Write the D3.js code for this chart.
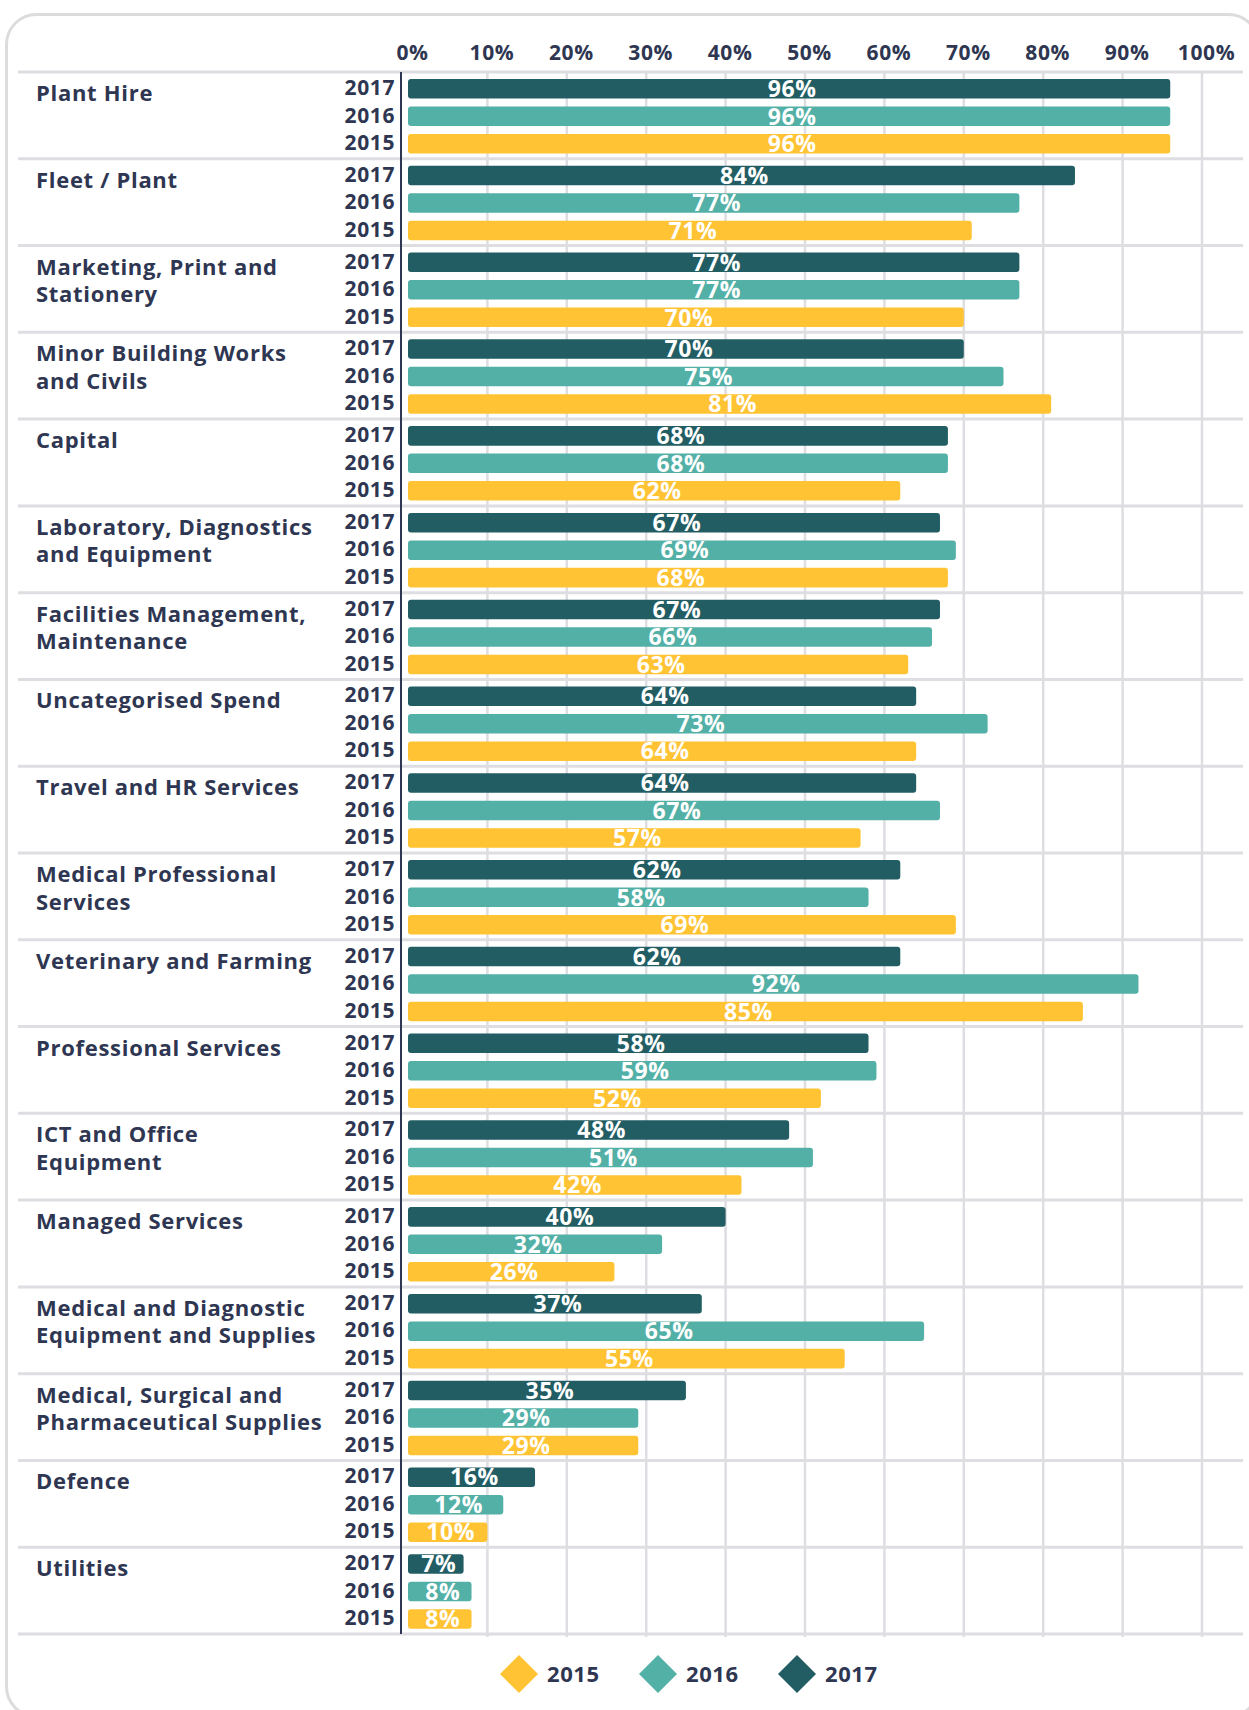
<!DOCTYPE html>
<html>
<head>
<meta charset="utf-8">
<script src="https://cdn.jsdelivr.net/npm/d3@7"></script>
<style>
  html, body { margin: 0; padding: 0; background: #fff; }
  svg { display: block; font-family: "Open Sans", Lato, sans-serif; font-weight: 700; }
</style>
</head>
<body>
<div id="chart"></div>
<script>
// spend categories, top to bottom
const categories = [
  'Plant Hire',
  'Fleet / Plant',
  'Marketing, Print and\nStationery',
  'Minor Building Works\nand Civils',
  'Capital',
  'Laboratory, Diagnostics\nand Equipment',
  'Facilities Management,\nMaintenance',
  'Uncategorised Spend',
  'Travel and HR Services',
  'Medical Professional\nServices',
  'Veterinary and Farming',
  'Professional Services',
  'ICT and Office\nEquipment',
  'Managed Services',
  'Medical and Diagnostic\nEquipment and Supplies',
  'Medical, Surgical and\nPharmaceutical Supplies',
  'Defence',
  'Utilities'
];

const years = ['2017', '2016', '2015'];
const legendYears = ['2015', '2016', '2017'];

const values2017 = [96, 84, 77, 70, 68, 67, 67, 64, 64, 62, 62, 58, 48, 40, 37, 35, 16, 7];
const values2016 = [96, 77, 77, 75, 68, 69, 66, 73, 67, 58, 92, 59, 51, 32, 65, 29, 12, 8];
const values2015 = [96, 71, 70, 81, 62, 68, 63, 64, 57, 69, 85, 52, 42, 26, 55, 29, 10, 8];

const tickValues = [0, 10, 20, 30, 40, 50, 60, 70, 80, 90, 100];

const seriesByYear = {'2017': values2017, '2016': values2016, '2015': values2015};
const colors = {'2017': '#215d63', '2016': '#53b0a6', '2015': '#ffc333'};
const navy = '#2e3652';
const gridGrey = '#dedde2';

const width = 1249;
const height = 1710;

const svg = d3.select('#chart')
  .append('svg')
  .attr('width', width)
  .attr('height', height)
  .attr('viewBox', `0 0 ${width} ${height}`);

// card outline
svg.append('rect')
  .attr('x', 6.5)
  .attr('y', 14.5)
  .attr('width', 1252)
  .attr('height', 1702)
  .attr('rx', 30)
  .attr('fill', '#fff')
  .attr('stroke', '#dcdcdf')
  .attr('stroke-width', 3);

const x = d3.scaleLinear()
  .domain([0, 100])
  .range([408, 1202]);

const y = d3.scaleBand()
  .domain(categories)
  .range([72, 1634]);

const yYear = d3.scaleBand()
  .domain(years)
  .range([7, 81.5])
  .paddingInner(0.29);

// vertical gridlines
svg.append('g')
  .selectAll('line')
  .data(tickValues.filter(d => d > 0))
  .join('line')
  .attr('x1', d => x(d))
  .attr('x2', d => x(d))
  .attr('y1', 72)
  .attr('y2', 1637)
  .attr('stroke', gridGrey)
  .attr('stroke-width', 2.5);

// horizontal group separators
const sepYs = categories.map(c => y(c)).concat([y.range()[1]]);
svg.append('g')
  .selectAll('line')
  .data(sepYs)
  .join('line')
  .attr('x1', 18)
  .attr('x2', 1243)
  .attr('y1', d => d)
  .attr('y2', d => d)
  .attr('stroke', gridGrey)
  .attr('stroke-width', 3);

// top axis labels
const axis = svg.append('g')
  .attr('transform', 'translate(4, 60)')
  .call(d3.axisTop(x).tickValues(tickValues).tickFormat(d => d + '%').tickSize(0).tickPadding(0));
axis.select('.domain').remove();
axis.selectAll('text')
  .attr('dy', 0)
  .attr('fill', navy)
  .style('font-family', '"Open Sans", sans-serif')
  .style('font-weight', 700)
  .style('font-size', '21px')
  .style('letter-spacing', '0.6px');

const groups = svg.append('g')
  .selectAll('g')
  .data(categories.map((c, i) => ({name: c, index: i})))
  .join('g')
  .attr('transform', d => `translate(0, ${y(d.name)})`);

// category labels
groups.append('text')
  .attr('x', 36)
  .attr('y', 29)
  .attr('fill', navy)
  .style('font-size', '22px')
  .style('letter-spacing', '0.7px')
  .selectAll('tspan')
  .data(d => d.name.split('\n'))
  .join('tspan')
  .attr('x', 36)
  .attr('dy', (d, i) => i === 0 ? 0 : 27.5)
  .text(d => d);

// year labels
groups.selectAll('.year-label')
  .data(years)
  .join('text')
  .attr('class', 'year-label')
  .attr('x', 395)
  .attr('y', d => yYear(d) + yYear.bandwidth() - 3.5)
  .attr('text-anchor', 'end')
  .attr('fill', navy)
  .style('font-size', '21px')
  .style('letter-spacing', '0.6px')
  .text(d => d);

const barData = g => years.map(yr => ({year: yr, value: seriesByYear[yr][g.index]}));

// bars
groups.selectAll('.bar')
  .data(barData)
  .join('rect')
  .attr('class', 'bar')
  .attr('x', x(0))
  .attr('y', d => yYear(d.year))
  .attr('width', d => x(d.value) - x(0))
  .attr('height', yYear.bandwidth())
  .attr('rx', 3)
  .attr('fill', d => colors[d.year]);

// value labels
groups.selectAll('.value-label')
  .data(barData)
  .join('text')
  .attr('class', 'value-label')
  .attr('x', d => (x(0) + x(d.value)) / 2 + 3)
  .attr('y', d => yYear(d.year) + yYear.bandwidth() - 1.5)
  .attr('text-anchor', 'middle')
  .attr('fill', '#fff')
  .style('font-size', '23px')
  .style('letter-spacing', '0.6px')
  .text(d => d.value + '%');

// y axis line
svg.append('line')
  .attr('x1', 401)
  .attr('x2', 401)
  .attr('y1', 72)
  .attr('y2', 1634)
  .attr('stroke', navy)
  .attr('stroke-width', 2);

// legend
const legendX = d3.scalePoint()
  .domain(legendYears)
  .range([519, 797]);

const legend = svg.append('g')
  .selectAll('g')
  .data(legendYears)
  .join('g')
  .attr('transform', d => `translate(${legendX(d)}, 1674)`);

legend.append('path')
  .attr('d', 'M0,-19 L19,0 L0,19 L-19,0 Z')
  .attr('fill', d => colors[d]);

legend.append('text')
  .attr('x', 28)
  .attr('y', 7.5)
  .attr('fill', navy)
  .style('font-size', '22px')
  .style('letter-spacing', '0.6px')
  .text(d => d);
</script>
</body>
</html>
